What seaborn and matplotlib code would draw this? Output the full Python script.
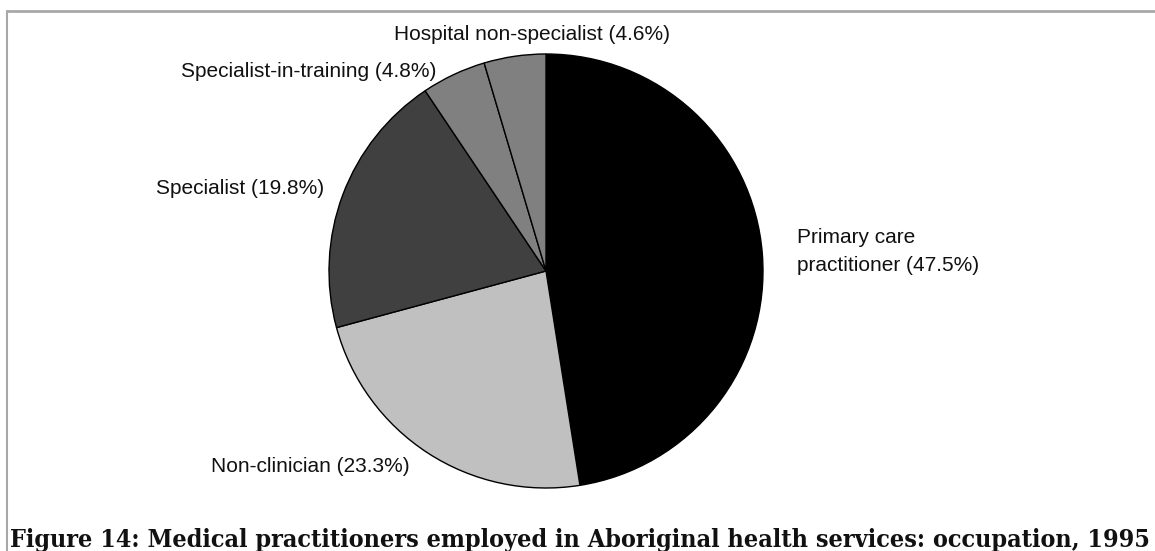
import numpy as np
import matplotlib
matplotlib.use("Agg")
import matplotlib.pyplot as plt
from matplotlib.lines import Line2D
from matplotlib import font_manager as fm
import seaborn as sns

categories = ["Primary care\npractitioner", "Non-clinician", "Specialist",
              "Specialist-in-training", "Hospital non-specialist"]
values = [47.5, 23.3, 19.8, 4.8, 4.6]
colors = ["#000000", "#c0c0c0", "#404040", "#808080", "#808080"]
title = "Figure 14: Medical practitioners employed in Aboriginal health services: occupation, 1995"

# label placement style: (radius, angle offset in degrees, horizontal alignment)
label_style = [(1.16, 0.0, "left"), (1.10, -2.0, "right"), (1.09, 0.0, "right"),
               (1.05, 3.5, "right"), (1.09, -5.0, "center")]

sns.set_theme(style="white")
plt.rcParams['font.family'] = ['Liberation Sans', 'DejaVu Sans']

W, H = 1155, 551
fig = plt.figure(figsize=(W / 100, H / 100), dpi=100)
cx, cy, R = 546, 271, 217
ax = fig.add_axes([(cx - R) / W, 1 - (cy + R) / H, 2 * R / W, 2 * R / H])
wedges, _ = ax.pie(values, colors=colors, startangle=90, counterclock=False,
                   radius=1.0,
                   wedgeprops=dict(edgecolor="black", linewidth=1.0))
ax.set_xlim(-1, 1)
ax.set_ylim(-1, 1)
ax.set_aspect("equal")
ax.axis("off")

for w, lab, val, (r, off, ha) in zip(wedges, categories, values, label_style):
    mid = np.deg2rad((w.theta1 + w.theta2) / 2 + off)
    ax.text(r * np.cos(mid), r * np.sin(mid), f"{lab} ({val}%)",
            ha=ha, va="center", fontsize=15, color="#111111",
            linespacing=1.6, clip_on=False)

# frame lines
fig.add_artist(Line2D([7 / W, 1.0], [1 - 11 / H, 1 - 11 / H], color="#a8a8a8", lw=2))
fig.add_artist(Line2D([7 / W, 7 / W], [1 - 11 / H, 0.0], color="#a8a8a8", lw=1.5))

tfont = fm.FontProperties(family="DejaVu Serif", weight="bold", stretch="condensed")
t = fig.text(10 / W, 1 - 547 / H, title, fontproperties=tfont, fontsize=18,
             ha="left", va="baseline", color="#111111")
fig.canvas.draw()
bb = t.get_window_extent(fig.canvas.get_renderer())
t.set_fontsize(18 * (1140 / bb.width))

fig.savefig("out.png", dpi=100)
